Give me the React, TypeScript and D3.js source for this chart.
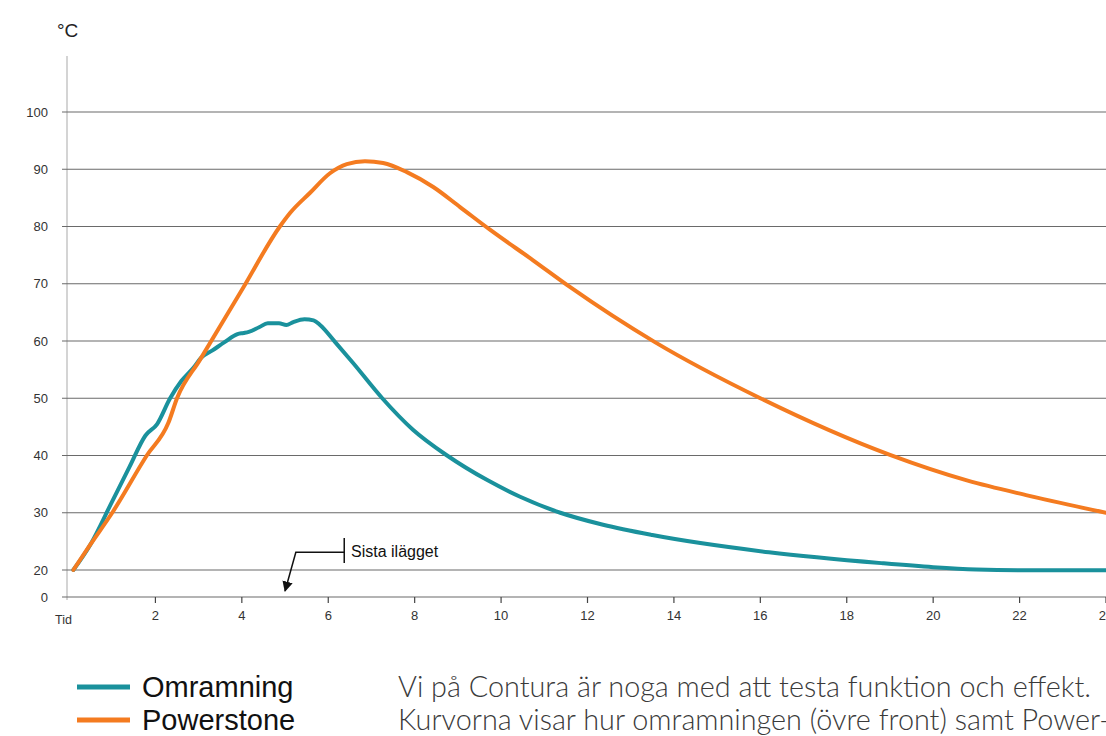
import React from 'react';
import * as d3 from 'd3';

// time (Tid) and temperatures (°C)
const omramningT = [0.1, 0.5, 1.0, 1.4, 1.77, 2.04, 2.34, 2.6, 2.9, 3.05, 3.33, 3.6, 3.9, 4.04, 4.16, 4.4, 4.6, 4.86, 5.03, 5.19, 5.45, 5.66, 5.81, 6.16, 6.57, 7.25, 7.96, 8.75, 9.68, 10.44, 11.37, 12.36, 13.5, 16.2, 18.8, 20, 21, 22, 24];
const omramningV = [20, 24.5, 32, 38, 43.5, 45.5, 50, 53, 55.5, 57, 58.4, 59.8, 61.2, 61.4, 61.6, 62.4, 63.1, 63.1, 62.8, 63.3, 63.8, 63.6, 62.8, 59.8, 56.2, 50, 44.5, 40, 35.7, 32.8, 30, 27.9, 26.1, 23.1, 21.2, 20.5, 20.1, 19.9, 19.9];

const powerstoneT = [0.1, 0.5, 1.0, 1.8, 2.3, 2.5, 3.03, 4, 4.88, 5.12, 5.58, 6.04, 6.43, 6.85, 7.27, 7.82, 8.43, 9.05, 9.75, 10.74, 11.6, 13.56, 16, 19, 20.8, 22.2, 24];
const powerstoneV = [20, 24.5, 30, 40, 45.7, 50, 56.7, 68.9, 80, 82.4, 85.9, 89.3, 90.9, 91.4, 91.1, 89.5, 86.9, 83.4, 79.4, 74.1, 69.4, 59.8, 50, 40.1, 35.6, 33, 30];

const yTicks = [0, 20, 30, 40, 50, 60, 70, 80, 90, 100];
const xTicks = [2, 4, 6, 8, 10, 12, 14, 16, 18, 20, 22, 24];

const series = [
  { name: 'Omramning', color: '#1a919c', t: omramningT, v: omramningV },
  { name: 'Powerstone', color: '#f47b20', t: powerstoneT, v: powerstoneV },
];

const textLines = [
  'Vi på Contura är noga med att testa funktion och effekt.',
  'Kurvorna visar hur omramningen (övre front) samt Power-',
];

const W = 1106;
const H = 736;

const App = () => {
  const x = d3.scaleLinear().domain([0, 24]).range([69, 1106]);
  // broken axis: 0 sits just below 20
  const y = d3.scaleLinear().domain([0, 20, 100]).range([597, 570, 112]);

  const line = d3
    .line<[number, number]>()
    .x((d) => x(d[0]))
    .y((d) => y(d[1]))
    .curve(d3.curveMonotoneX);

  const font = 'Liberation Sans, Arial, sans-serif';

  return (
    <svg width={W} height={H} style={{ position: 'absolute', left: 0, top: 0 }} fontFamily={font}>
      <rect width={W} height={H} fill="#fff" />
      {/* y axis */}
      <line x1={67} x2={67} y1={56} y2={600} stroke="#d4d4d4" strokeWidth={2} />
      <text x={57} y={37} fontSize={19} fill="#222">°C</text>
      {yTicks.map((t) => (
        <g key={t}>
          <line x1={62} x2={W} y1={y(t)} y2={y(t)} stroke="#6a6a6a" strokeWidth={1.2} />
          <text x={48} y={y(t) + 4.5} fontSize={13} textAnchor="end" fill="#333">{t}</text>
        </g>
      ))}
      {/* x axis ticks */}
      {xTicks.map((t) => (
        <g key={t}>
          <line x1={x(t)} x2={x(t)} y1={597} y2={603} stroke="#444" strokeWidth={1.2} />
          <text x={x(t)} y={620} fontSize={13} textAnchor="middle" fill="#333">{t}</text>
        </g>
      ))}
      <text x={55} y={624} fontSize={12.5} fill="#333">Tid</text>

      {series.map((s) => (
        <path
          key={s.name}
          d={line(s.t.map((t, i) => [t, s.v[i]] as [number, number])) || ''}
          fill="none"
          stroke={s.color}
          strokeWidth={4}
          strokeLinejoin="round"
          strokeLinecap="round"
        />
      ))}

      {/* annotation */}
      <defs>
        <marker id="arr" viewBox="0 0 10 10" refX={9} refY={5} markerWidth={7} markerHeight={7} orient="auto-start-reverse">
          <path d="M0,0 L10,5 L0,10 z" fill="#111" />
        </marker>
      </defs>
      <line x1={x(6.37)} x2={x(6.37)} y1={538} y2={563} stroke="#111" strokeWidth={1.5} />
      <polyline
        points={`${x(6.37)},${y(23.1)} ${x(5.25)},${y(23.1)} ${x(5)},${y(4.5)}`}
        fill="none"
        stroke="#111"
        strokeWidth={1.5}
        markerEnd="url(#arr)"
      />
      <text x={351} y={557} fontSize={16} fill="#111">Sista ilägget</text>

      {/* legend */}
      {series.map((s, i) => (
        <g key={s.name} transform={`translate(0, ${687 + i * 33})`}>
          <line x1={77} x2={130} y1={0} y2={0} stroke={s.color} strokeWidth={5} />
          <text x={142} y={9.5} fontSize={29} fill="#111">{s.name}</text>
        </g>
      ))}

      {textLines.map((l, i) => (
        <text key={i} x={398} y={697 + i * 33} fontSize={28.8} fontWeight={300} fill="#3a3a3a" fontFamily="Lato, sans-serif">
          {l}
        </text>
      ))}
    </svg>
  );
};

export default App;
